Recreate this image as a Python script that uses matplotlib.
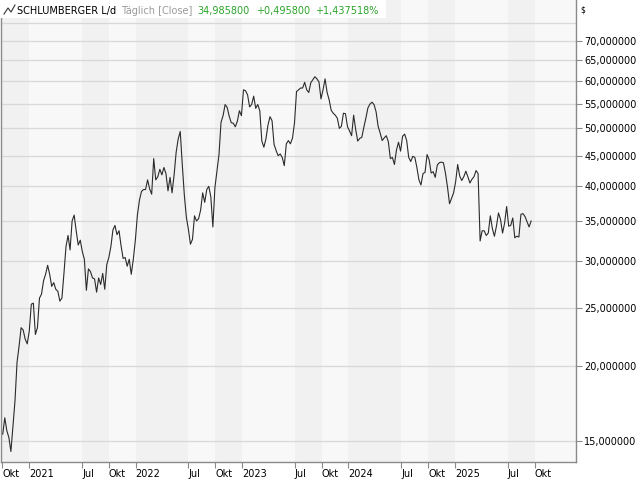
import matplotlib
matplotlib.use("Agg")
import matplotlib.pyplot as plt
import pandas as pd
from matplotlib.lines import Line2D
from matplotlib.patches import Rectangle
from matplotlib.ticker import FixedLocator, FixedFormatter, NullFormatter

# weekly closes, first week ending 2020-10-02
START = "2020-10-02"
closes = [
    15.4, 16.4, 15.6, 15.2, 14.4, 15.9, 17.5, 20.3, 21.6, 23.2,
    23.0, 22.2, 21.8, 22.9, 25.4, 25.5, 22.6, 23.2, 26.0, 26.4,
    27.8, 28.5, 29.5, 28.5, 27.2, 27.6, 26.9, 26.7, 25.7, 26.0,
    28.6, 31.7, 33.1, 31.3, 35.0, 35.8, 33.7, 31.9, 32.5, 31.1,
    30.2, 26.8, 29.1, 28.8, 28.1, 28.0, 26.6, 28.1, 27.4, 28.6,
    26.9, 29.6, 30.4, 31.7, 33.8, 34.4, 33.2, 33.7, 31.8, 30.3,
    30.4, 29.4, 30.2, 28.5, 30.2, 32.5, 35.8, 37.9, 39.2, 39.5,
    39.5, 41.0, 39.6, 38.8, 44.5, 41.0, 41.5, 42.7, 41.8, 43.0,
    42.0, 39.3, 41.4, 39.0, 41.8, 45.6, 48.0, 49.4, 43.5, 38.7,
    35.5, 33.9, 32.0, 32.6, 35.7, 35.0, 35.3, 36.5, 39.0, 37.6,
    39.5, 40.0, 38.4, 34.2, 39.8, 42.4, 45.2, 51.2, 52.5, 54.8,
    54.2, 52.4, 51.1, 51.0, 50.3, 51.4, 53.5, 52.5, 58.0, 57.8,
    56.9, 54.3, 54.8, 56.6, 54.0, 54.8, 53.5, 47.6, 46.5, 48.0,
    50.6, 52.3, 51.5, 47.0, 45.9, 45.0, 45.3, 44.7, 43.3, 47.1,
    47.7, 47.1, 48.1, 51.0, 57.6, 58.0, 58.4, 58.4, 59.7, 58.0,
    57.4, 59.6, 60.3, 61.0, 60.5, 59.8, 56.0, 58.0, 60.5, 57.4,
    55.8, 53.6, 53.0, 52.6, 52.0, 50.0, 50.4, 53.0, 52.9, 50.3,
    49.5, 48.6, 52.6, 49.8, 47.6, 48.1, 48.3, 50.2, 52.0, 54.1,
    54.9, 55.3, 54.8, 53.3, 50.4, 49.1, 47.7, 48.2, 48.6, 47.5,
    44.5, 44.7, 43.5, 46.0, 47.4, 45.8, 48.5, 48.9, 47.7, 44.7,
    44.0, 44.9, 44.7, 43.0, 41.0, 40.2, 42.0, 42.2, 45.2, 44.3,
    42.1, 42.3, 41.4, 43.4, 43.8, 43.9, 43.8, 42.1, 39.9, 37.4,
    38.2, 39.0, 40.7, 43.5, 41.6, 40.9, 41.5, 42.4, 41.5, 40.5,
    41.1, 41.5, 42.5, 42.0, 32.4, 33.7, 33.7, 33.1, 33.4, 35.7,
    34.0, 33.0, 34.3, 36.1, 35.2, 33.4, 34.7, 37.0, 34.3, 34.4,
    35.4, 32.8, 33.0, 32.9, 35.9, 36.0, 35.6, 34.9, 34.2, 34.99,
]

tick_dates = ["2020-10-01", "2021-01-01", "2021-07-01", "2021-10-01",
              "2022-01-01", "2022-07-01", "2022-10-01", "2023-01-01",
              "2023-07-01", "2023-10-01", "2024-01-01", "2024-07-01",
              "2024-10-01", "2025-01-01", "2025-07-01", "2025-10-01"]
tick_labels = ["Okt", "2021", "Jul", "Okt", "2022", "Jul", "Okt", "2023",
               "Jul", "Okt", "2024", "Jul", "Okt", "2025", "Jul", "Okt"]
price_levels = [15, 20, 25, 30, 35, 40, 45, 50, 55, 60, 65, 70]
extra_grid = [75]

x_lo, x_hi = pd.Timestamp("2020-09-26"), pd.Timestamp("2026-02-20")
y_lo, y_hi = 13.83, 81.97

BAND_DARK = "#f1f1f1"
BAND_LIGHT = "#f8f8f8"
GRID = "#d8d8d8"
FRAME = "#8a8a8a"
GREEN = "#2aa52a"

dates = pd.date_range(START, periods=len(closes), freq="7D")
ticks = pd.to_datetime(tick_dates)

fig = plt.figure(figsize=(6.4, 4.8), dpi=100)
ax = fig.add_axes([1 / 640, 18 / 480, 575 / 640, 462 / 480])
ax.set_facecolor(BAND_LIGHT)

# alternating shading between the date ticks
edges = list(ticks) + [x_hi]
for i in range(len(ticks)):
    if i % 2 == 0:
        ax.axvspan(edges[i], edges[i + 1], color=BAND_DARK, lw=0, zorder=0)

ax.set_yscale("log")
ax.set_xlim(x_lo, x_hi)
ax.set_ylim(y_lo, y_hi)

ax.plot(dates, closes, color="#2b2b2b", lw=0.8, zorder=3)

ax.yaxis.tick_right()
ax.yaxis.set_major_locator(FixedLocator(price_levels))
ax.yaxis.set_major_formatter(FixedFormatter([f"{v:.6f}".replace(".", ",") for v in price_levels]))
ax.yaxis.set_minor_locator(FixedLocator(extra_grid))
ax.yaxis.set_minor_formatter(NullFormatter())
ax.tick_params(axis="y", which="major", length=4, width=0.8, color=FRAME, pad=2,
               labelsize=7, labelcolor="black")
ax.tick_params(axis="y", which="minor", length=0)
ax.grid(axis="y", which="both", color=GRID, lw=0.9, zorder=1)
ax.set_axisbelow(True)

ax.set_xticks(ticks)
ax.set_xticklabels(tick_labels)
ax.tick_params(axis="x", length=4, width=0.8, color=FRAME, pad=1, labelsize=7,
               labelcolor="black")
for lbl in ax.get_xticklabels():
    lbl.set_horizontalalignment("left")

for side in ("left", "right", "bottom"):
    ax.spines[side].set_color(FRAME)
    ax.spines[side].set_linewidth(1.0)
ax.spines["top"].set_visible(False)

# title strip
fig.add_artist(Rectangle((0, 1 - 18 / 480), 386 / 640, 18 / 480, transform=fig.transFigure,
                         facecolor="white", edgecolor="none", zorder=5))
fig.add_artist(Line2D([4 / 640, 8 / 640, 11 / 640, 15 / 640],
                      [1 - 14 / 480, 1 - 8 / 480, 1 - 12 / 480, 1 - 5 / 480],
                      transform=fig.transFigure, color="#333333", lw=0.8, zorder=6))
base = 1 - 14 / 480
fig.text(17 / 640, base, "SCHLUMBERGER L/d", fontsize=7, color="black", va="baseline", zorder=6)
fig.text(121 / 640, base, "Täglich [Close]", fontsize=7, color="#9a9a9a", va="baseline", zorder=6)
fig.text(197 / 640, base, "34,985800", fontsize=7, color=GREEN, va="baseline", zorder=6)
fig.text(256 / 640, base, "+0,495800", fontsize=7, color=GREEN, va="baseline", zorder=6)
fig.text(315 / 640, base, "+1,437518%", fontsize=7, color=GREEN, va="baseline", zorder=6)
fig.text(580 / 640, 1 - 13 / 480, "$", fontsize=5.5, color="black", va="baseline")

fig.savefig("out.png", dpi=100)
